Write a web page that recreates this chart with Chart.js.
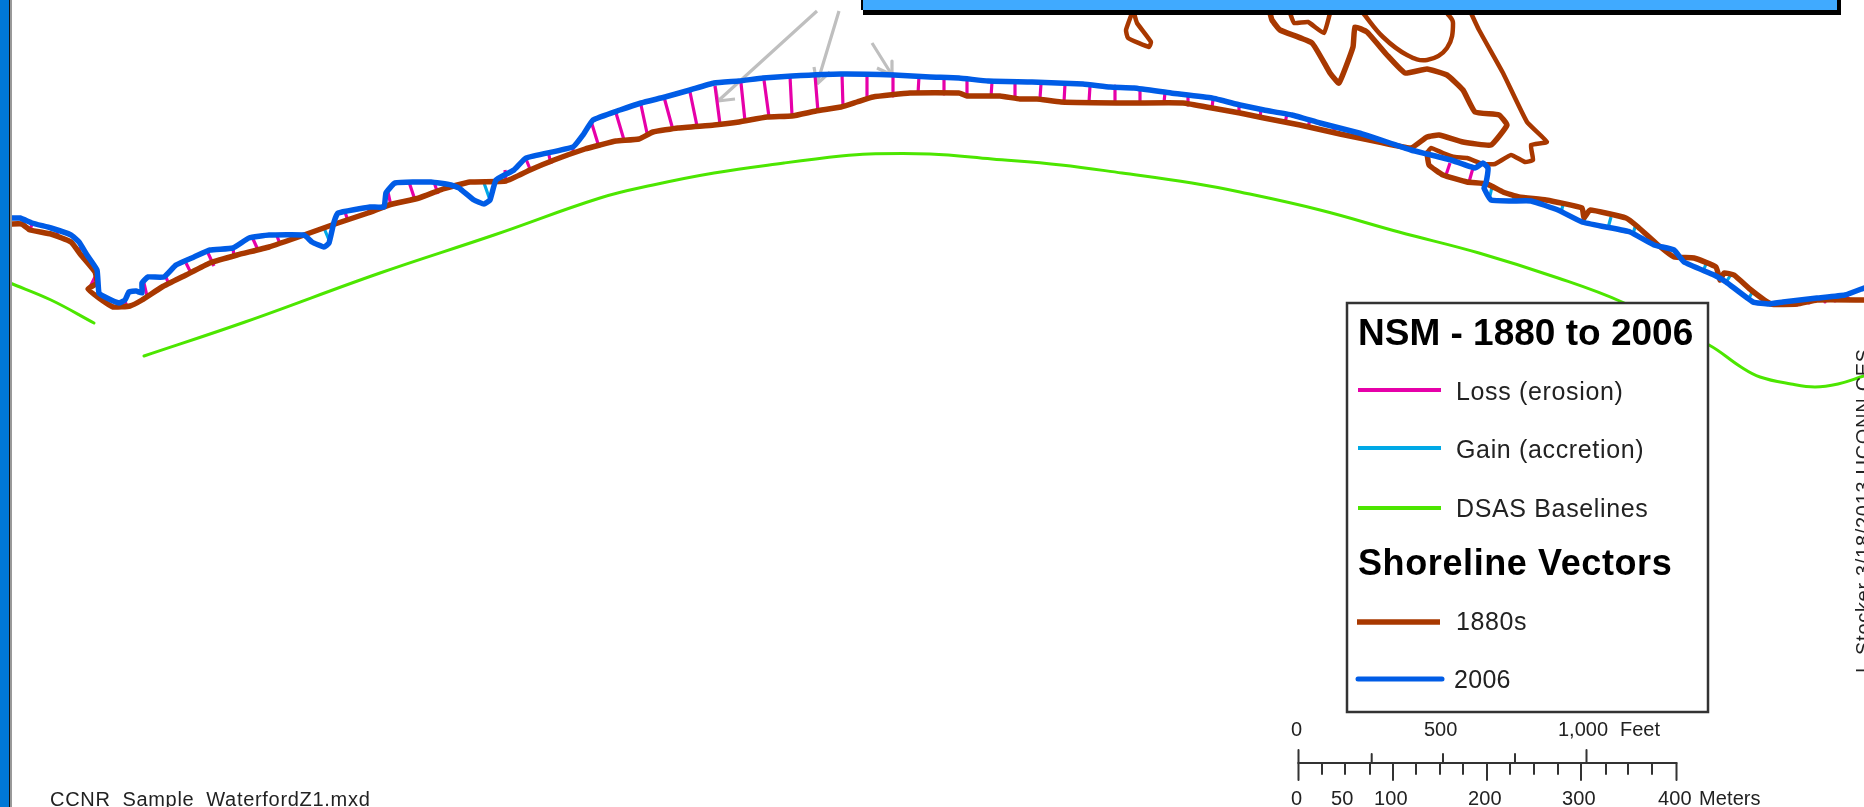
<!DOCTYPE html>
<html><head><meta charset="utf-8">
<style>html,body{margin:0;padding:0;background:#fff;overflow:hidden}canvas{display:block}</style>
<script src="https://cdn.jsdelivr.net/npm/chart.js@4/dist/chart.umd.min.js"></script>
</head><body>
<canvas id="c" width="1864" height="807"></canvas>
<script>
const shoreline2006 = [[10,218],[20,218],[32,223],[51,228],[71,235],[79,242],[87,255],[97,270],[99,293],[107,298],[119,303],[125,300],[129,292],[136,291],[142,293],[142,283],[148,277],[164,277],[176,265],[194,257],[210,250],[233,248],[249,238],[269,235],[304,235],[312,242],[324,247],[329,243],[334,222],[338,213],[370,207],[384,207],[386,193],[395,183],[431,182],[451,185],[459,188],[474,200],[484,204],[490,200],[496,180],[514,170],[526,158],[573,147],[583,135],[593,120],[620,110],[641,103],[665,97],[690,90],[714,83],[739,81],[763,78],[792,76],[841,74],[894,75],[930,77],[959,78],[988,81],[1032,82],[1083,84],[1110,87],[1134,88],[1171,93],[1212,98],[1240,105],[1264,110],[1292,115],[1320,123],[1359,133],[1387,142],[1411,150],[1427,154],[1451,160],[1475,168],[1483,163],[1488,168],[1486,183],[1484,188],[1491,200],[1511,201],[1531,201],[1558,210],[1582,222],[1606,227],[1630,232],[1654,245],[1674,250],[1684,262],[1714,275],[1726,282],[1753,302],[1769,304],[1783,302],[1817,298],[1845,295],[1864,288]];
const shoreline1880Main = [[10,224],[22,224],[30,230],[51,234],[71,242],[81,255],[95,272],[97,283],[88,289],[99,298],[113,307],[130,306],[142,300],[162,287],[186,275],[210,263],[237,255],[269,247],[304,235],[332,225],[368,213],[389,205],[419,198],[443,189],[470,182],[506,181],[530,170],[554,160],[585,149],[600,145],[616,141],[639,139],[653,132],[678,128],[714,125],[739,122],[767,117],[792,116],[816,111],[841,107],[857,102],[873,97],[910,93],[959,93],[967,96],[1000,96],[1020,99],[1037,99],[1061,102],[1130,103],[1183,103],[1212,108],[1240,113],[1264,118],[1300,125],[1340,134],[1379,142],[1411,148],[1427,137],[1439,135],[1463,142],[1491,145],[1507,125],[1499,115],[1475,112],[1463,90],[1447,75],[1427,69],[1405,73],[1387,55],[1367,32],[1355,27],[1353,47],[1339,83],[1330,73],[1312,43],[1280,30],[1272,20],[1270,13]];
const shoreline1880Inner = [[1290,13],[1294,23],[1308,22],[1324,33],[1330,13]];
const shoreline1880Outer = [[1363,13],[1383,37],[1407,55],[1427,60],[1447,48],[1453,23],[1447,13]];
const shoreline1880Spit = [[1427,153],[1431,148],[1443,153],[1455,157],[1467,158],[1483,164],[1495,164],[1511,155],[1525,162],[1533,160],[1531,145],[1547,142],[1527,122],[1503,73],[1479,30],[1471,13]];
const shoreline1880East = [[1427,153],[1429,165],[1443,175],[1467,182],[1487,184],[1503,192],[1519,197],[1546,200],[1582,208],[1584,218],[1590,210],[1626,218],[1638,227],[1658,245],[1674,257],[1694,258],[1716,267],[1720,280],[1724,273],[1734,275],[1751,290],[1771,304],[1797,304],[1817,300],[1864,300]];
const shoreline1880Pond = [[1132,13],[1126,30],[1128,38],[1149,47],[1151,42],[1137,23],[1134,13]];
const baselineWest = [[10,283],[51,300],[94,323]];
const baselineEast = [[144,356],[245,322],[380,273],[494,235],[600,198],[653,185],[714,173],[784,163],[841,156],[869,154],[930,154],[992,159],[1061,165],[1122,173],[1192,183],[1240,192],[1320,210],[1399,232],[1479,253],[1558,278],[1622,302],[1709,345],[1741,367],[1760,377],[1791,384],[1815,387],[1838,384],[1864,376]];
const lossVectors = [[32,224,30,230],[58,232,55,236],[81,247,77,253],[97,273,89,289],[125,301,127,307],[144,283,147,296],[166,277,169,285],[186,263,191,273],[208,253,214,266],[233,247,234,258],[253,239,258,250],[277,236,280,244],[302,234,304,237],[345,212,348,221],[368,208,370,213],[388,192,391,206],[409,182,415,200],[434,182,438,194],[505,170,506,182],[526,159,530,169],[548,151,551,164],[572,146,574,154],[591,121,599,147],[616,113,624,140],[641,105,647,133],[664,97,673,130],[690,92,697,126],[715,86,720,124],[741,83,745,121],[764,80,769,117],[790,76,792,115],[815,75,818,112],[842,74,843,107],[867,75,867,99],[893,74,893,96],[919,76,918,94],[944,78,944,94],[967,80,967,96],[992,82,991,97],[1015,83,1015,98],[1041,84,1040,98],[1065,84,1064,102],[1090,86,1089,102],[1115,86,1115,102],[1140,89,1140,102],[1165,92,1164,103],[1188,95,1188,105],[1213,99,1212,108],[1239,105,1239,113],[1261,108,1260,119],[1287,114,1285,123],[1310,120,1308,127],[1335,126,1333,133],[1358,132,1356,138],[1380,140,1380,143],[1426,154,1427,157],[1450,163,1446,175],[1473,168,1469,182],[1678,255,1680,257],[1783,302,1783,305],[1797,302,1797,305],[1809,301,1809,303],[1825,298,1825,302],[1835,298,1835,301],[1845,295,1851,301]];
const gainVectors = [[324,228,329,240],[459,188,461,191],[484,183,490,200],[1404,147,1404,148],[1492,187,1489,200],[1515,194,1513,202],[1540,199,1538,205],[1563,205,1561,212],[1586,216,1583,223],[1611,217,1608,228],[1635,227,1633,234],[1656,243,1654,246],[1706,264,1704,269],[1730,276,1725,284],[1753,291,1749,298]];
const arrowShafts = [[817,11,718,101],[839,11,817,84],[872,43,892,75]];
const arrowBarbs = [[715,85,718,101],[735,99,718,101],[814,67,817,84],[830,72,817,84],[877,68,892,75],[892,61,892,75]];
const scaleAxis = [[1298.5,763],[1676.5,763]];
const feetMajorTicks = [1298.5,1586.5];
const feetMinorTicks = [1371.7,1443,1515];
const meterMajorTicks = [1298.5,1393,1487,1581,1676.5];
const meterMinorTicks = [1322,1345,1370,1416,1440,1463,1510,1534,1558,1606,1628,1652];
const legendEntries = ["Loss (erosion)","Gain (accretion)","DSAS Baselines","1880s","2006"];
const legendTitles = ["NSM - 1880 to 2006","Shoreline Vectors"];
const feetLabels = ["0","500","1,000","Feet"];
const meterLabels = ["0","50","100","200","300","400","Meters"];
const mapName = "CCNR_Sample_WaterfordZ1.mxd";
const creditText = "L Stocker 3/18/2013 UCONN CES";

const pts = a => a.map(p => ({x:p[0],y:p[1]}));
const segs = a => a.flatMap(s => [{x:s[0],y:s[1]},{x:s[2],y:s[3]},{x:null,y:null}]);
const line = (data,color,w,extra) => Object.assign({data,borderColor:color,borderWidth:w,showLine:true,spanGaps:false,pointRadius:0,pointHoverRadius:0,fill:false,tension:0,borderCapStyle:'round',borderJoinStyle:'round'},extra||{});

const BLUE='#005ce6',BROWN='#a83800',GREEN='#4ce600',PINK='#e600a9',CYAN='#00a9e6',GREY='#bfbfbf',DARK='#333333';
const tickSeg = (xs,y0,y1) => xs.map(x => [x,y0,x,y1]);
const soft = {tension:0.12}, curve = {tension:0.4};

const datasets = [
  line(pts(baselineWest),GREEN,3,curve),
  line(pts(baselineEast),GREEN,3,curve),
  line(pts(shoreline2006),BLUE,5.5,soft),
  line(pts(shoreline1880Main),BROWN,5.5,soft),
  line(pts(shoreline1880Inner),BROWN,4.5,soft),
  line(pts(shoreline1880Outer),BROWN,4.5,curve),
  line(pts(shoreline1880Spit),BROWN,4.5,soft),
  line(pts(shoreline1880East),BROWN,5.5,soft),
  line(pts(shoreline1880Pond),BROWN,4.5,soft),
  line(segs(lossVectors),PINK,3.2,{borderCapStyle:'butt'}),
  line(segs(gainVectors),CYAN,3.2,{borderCapStyle:'butt'}),
  line(segs(arrowShafts),GREY,3.2,{borderCapStyle:'butt'}),
  line(segs(arrowBarbs),GREY,3.2,{borderCapStyle:'butt'}),
  line(pts(scaleAxis),DARK,2),
  line(segs(tickSeg(feetMajorTicks,750,763)),DARK,2,{borderCapStyle:'butt'}),
  line(segs(tickSeg(feetMinorTicks,754,763)),DARK,2,{borderCapStyle:'butt'}),
  line(segs(tickSeg(meterMajorTicks,763,780)),DARK,2,{borderCapStyle:'butt'}),
  line(segs(tickSeg(meterMinorTicks,763,774)),DARK,2,{borderCapStyle:'butt'})
];

const overlay = {
  id:'overlay',
  afterDatasetsDraw(chart){
    const c = chart.ctx;
    c.save();
    // window frame
    c.fillStyle='#0078d7'; c.fillRect(0,0,9,807);
    c.fillStyle='#111111'; c.fillRect(9,0,1,807);
    c.fillStyle='#999999'; c.fillRect(10,0,2,807);
    // title box remnant
    c.fillStyle='#000'; c.fillRect(861,0,2,10); c.fillRect(863,10,978,5); c.fillRect(1837,0,4,10);
    c.fillStyle='#40aaff'; c.fillRect(863,0,974,10);
    // legend box
    c.fillStyle='#fff'; c.fillRect(1346,302,363,411);
    c.strokeStyle='#333'; c.lineWidth=2.5; c.strokeRect(1347,303,361,409);
    const sw=(y,x0,x1,col,w,cap)=>{c.strokeStyle=col;c.lineWidth=w;c.lineCap=cap||'butt';c.beginPath();c.moveTo(x0,y);c.lineTo(x1,y);c.stroke();};
    sw(390,1358,1441,PINK,4);
    sw(448,1358,1441,CYAN,4);
    sw(508,1358,1441,GREEN,4);
    sw(622,1357,1440,BROWN,5.5);
    sw(679,1358,1442,BLUE,5,'round');
    c.textBaseline='alphabetic'; c.textAlign='left';
    const tx=(s,x,y,font,sp,col)=>{c.font=font;c.letterSpacing=(sp||0)+'px';c.fillStyle=col||'#222';c.fillText(s,x,y);};
    const R='25px "Liberation Sans"', S='20px "Liberation Sans"';
    tx(legendTitles[0],1358,345,'bold 37px "Liberation Sans"',0,'#000');
    tx(legendTitles[1],1358,575,'bold 36px "Liberation Sans"',0.6,'#000');
    tx(legendEntries[0],1456,400,R,0.65);
    tx(legendEntries[1],1456,458,R,0.65);
    tx(legendEntries[2],1456,517,R,0.65);
    tx(legendEntries[3],1456,630,R,0.6);
    tx(legendEntries[4],1454,688,R,0.3);
    const fx=[1291,1424,1558,1620];
    feetLabels.forEach((s,i)=>tx(s,fx[i],736,S,0));
    const mx=[1291,1331,1374,1468,1562,1658,1699];
    meterLabels.forEach((s,i)=>tx(s,mx[i],805,S,0.1));
    tx(mapName,50,806,S,0.7);
    // vertical credit, clipped by the page edge
    c.save();
    c.translate(1870,673);
    c.rotate(-Math.PI/2);
    tx(creditText,0,0,'20px "Liberation Sans"',0.7);
    c.restore();
    c.restore();
  }
};

new Chart(document.getElementById('c'),{
  type:'scatter',
  data:{datasets},
  options:{
    responsive:false,animation:false,devicePixelRatio:1,
    layout:{padding:0},
    plugins:{legend:{display:false},tooltip:{enabled:false},title:{display:false}},
    scales:{
      x:{type:'linear',min:0,max:1864,display:false},
      y:{type:'linear',min:0,max:807,reverse:true,display:false}
    }
  },
  plugins:[overlay]
});
</script>
</body></html>
